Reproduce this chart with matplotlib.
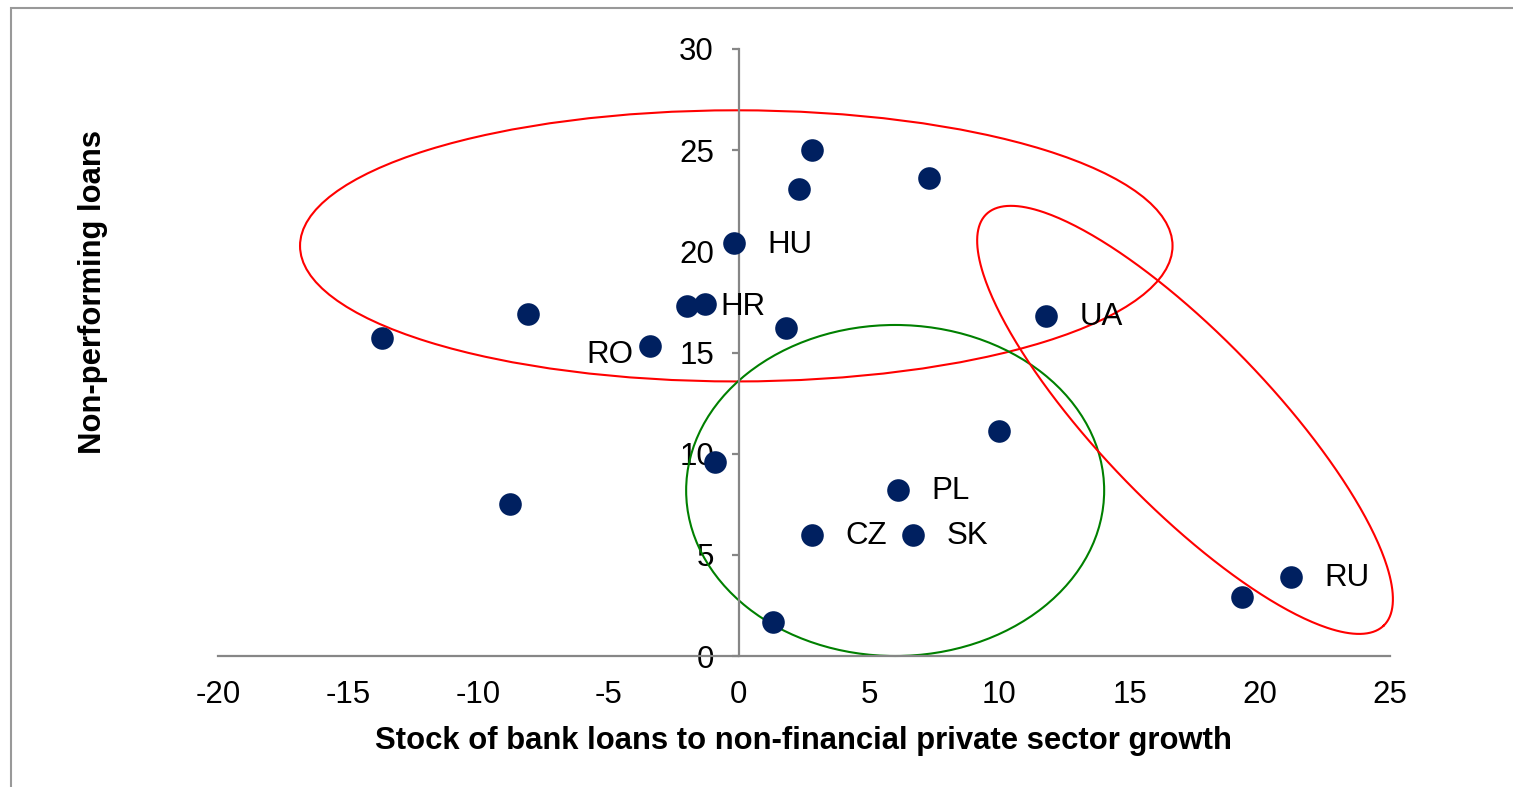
import numpy as np
import matplotlib
matplotlib.use('Agg')
import matplotlib.pyplot as plt
from matplotlib.patches import Ellipse, Rectangle

plt.rcParams['font.family'] = ['Liberation Sans', 'DejaVu Sans']
plt.rcParams['axes.unicode_minus'] = False

# credit growth (x) vs NPL ratio (y)
loan_growth = [-13.7, -8.1, -8.8, -3.4, -2.0, -1.3, -0.2, -0.9, 1.3, 1.8,
               2.3, 2.8, 2.8, 6.1, 6.7, 7.3, 10.0, 11.8, 19.3, 21.2]
npl = [15.7, 16.9, 7.5, 15.3, 17.3, 17.4, 20.4, 9.6, 1.7, 16.2,
       23.1, 25.0, 6.0, 8.2, 6.0, 23.6, 11.1, 16.8, 2.9, 3.9]
labels = ['', '', '', 'RO', 'HR', '', 'HU', '', '', '',
          '', '', 'CZ', 'PL', 'SK', '', '', 'UA', '', 'RU']

xticks = [-20, -15, -10, -5, 0, 5, 10, 15, 20, 25]
yticks = [0, 5, 10, 15, 20, 25, 30]

W, H = 1513, 787
fig = plt.figure(figsize=(W / 100, H / 100), dpi=100)
ax = fig.add_axes([218 / W, 1 - 656 / H, (1390 - 218) / W, (656 - 49) / H])

ax.set_xlim(-20, 25)
ax.set_ylim(0, 30)

# frame around the chart
fig.add_artist(Rectangle((11 / W, -0.2), 1.2, 1 - 8 / H + 0.2, transform=fig.transFigure,
                         fill=False, edgecolor='#999999', linewidth=1.5))

ax.scatter(loan_growth, npl, s=265, color='#002060', zorder=3, linewidths=0)

for x, y, lab in zip(loan_growth, npl, labels):
    if not lab:
        continue
    if lab == 'RO':
        ax.annotate(lab, (x, y), xytext=(-12, -6), textcoords='offset points',
                    ha='right', va='center', fontsize=22.5)
    else:
        ax.annotate(lab, (x, y), xytext=(24, -1), textcoords='offset points',
                    ha='left', va='center', fontsize=22.5)

# groups
ax.add_patch(Ellipse((-0.1, 20.27), 33.5, 13.4, fill=False, edgecolor='#ff0000',
                     linewidth=1.5, zorder=2, clip_on=False))
ax.add_patch(Ellipse((6.0, 8.18), 16.05, 16.36, fill=False, edgecolor='#008000',
                     linewidth=1.5, zorder=2, clip_on=False))

# tilted ellipse drawn in pixel space, then mapped back to data
cx, cy = ax.transData.transform((17.13, 11.67))
a, b, th = 286, 85, np.deg2rad(-46)
t = np.linspace(0, 2 * np.pi, 400)
px = cx + a * np.cos(t) * np.cos(th) - b * np.sin(t) * np.sin(th)
py = cy + a * np.cos(t) * np.sin(th) + b * np.sin(t) * np.cos(th)
pts = ax.transData.inverted().transform(np.column_stack([px, py]))
ax.plot(pts[:, 0], pts[:, 1], color='#ff0000', linewidth=1.5, zorder=2, clip_on=False)

for s in ['top', 'right']:
    ax.spines[s].set_visible(False)
ax.spines['left'].set_position(('data', 0))
for s in ['left', 'bottom']:
    ax.spines[s].set_color('#868686')
    ax.spines[s].set_linewidth(1.6)

ax.set_xticks(xticks)
ax.set_yticks(yticks)
ax.tick_params(axis='x', length=0, pad=17, labelsize=22.5)
ax.tick_params(axis='y', direction='out', length=5, width=1.6, color='#868686', pad=13, labelsize=22.5)

fig.text(803 / W, 1 - 741 / H, 'Stock of bank loans to non-financial private sector growth',
         ha='center', va='center', fontsize=22.3, fontweight='bold')
fig.text(93 / W, 1 - 292 / H, 'Non-performing loans', rotation=90,
         ha='center', va='center', fontsize=22.3, fontweight='bold')

fig.savefig('out.png', dpi=100)
